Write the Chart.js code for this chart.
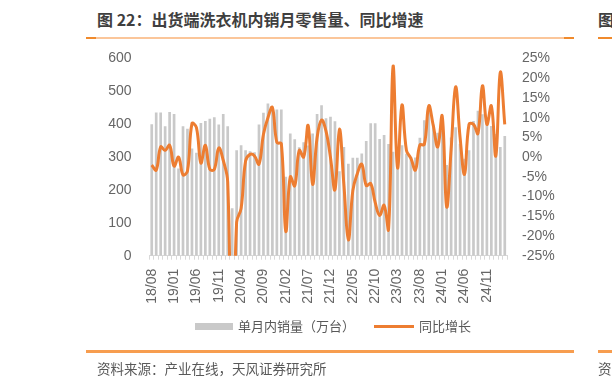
<!DOCTYPE html>
<html>
<head>
<meta charset="utf-8">
<script src="https://cdn.jsdelivr.net/npm/chart.js@4"></script>
<style>
  html, body { margin: 0; padding: 0; background: #fff; }
  body { width: 612px; height: 384px; position: relative; overflow: hidden; font-family: "Noto Sans CJK SC", "Noto Sans", sans-serif; }
  #c { position: absolute; left: 0; top: 0; }
  .abs { position: absolute; white-space: nowrap; }
  .title { left: 97px; top: 8px; font-size: 16px; font-weight: bold; color: #3f3f3f; line-height: 22px; }
  .rule-top { left: 86px; top: 37px; width: 488px; height: 2px; background: linear-gradient(to right, #f08a2c 0, #f08a2c 10px, #fbc69a 10px, #fbc69a 478px, #f08a2c 478px); }
  .rule-bot { left: 86px; top: 350px; width: 488px; height: 3px; background: #f79d4f; }
  .source { left: 97px; top: 358px; font-size: 13.5px; color: #595959; line-height: 20px; }
  .legend { top: 317px; font-size: 13px; color: #595959; line-height: 18px; }
</style>
</head>
<body>
<div class="abs title">图 22：出货端洗衣机内销月零售量、同比增速</div>
<div class="abs rule-top"></div>
<div class="abs title" style="left:598px">图</div>
<div class="abs" style="left:598px;top:37px;width:14px;height:2px;background:#f08a2c"></div>

<canvas id="c" width="612" height="384"></canvas>

<div class="abs" style="left:195px;top:323px;width:38px;height:7px;background:#c9c9c9"></div>
<div class="abs legend" style="left:238px">单月内销量（万台）</div>
<div class="abs" style="left:374px;top:325px;width:40px;height:3px;background:#ed7d31"></div>
<div class="abs legend" style="left:419px">同比增长</div>

<div class="abs rule-bot"></div>
<div class="abs" style="left:598px;top:350px;width:14px;height:3px;background:#f79d4f"></div>
<div class="abs source">资料来源：产业在线，天风证券研究所</div>
<div class="abs source" style="left:598px">资</div>

<script>
const months = [
  '18/08','18/09','18/10','18/11','18/12',
  '19/01','19/02','19/03','19/04','19/05','19/06','19/07','19/08','19/09','19/10','19/11','19/12',
  '20/01','20/02','20/03','20/04','20/05','20/06','20/07','20/08','20/09','20/10','20/11','20/12',
  '21/01','21/02','21/03','21/04','21/05','21/06','21/07','21/08','21/09','21/10','21/11','21/12',
  '22/01','22/02','22/03','22/04','22/05','22/06','22/07','22/08','22/09','22/10','22/11','22/12',
  '23/01','23/02','23/03','23/04','23/05','23/06','23/07','23/08','23/09','23/10','23/11','23/12',
  '24/01','24/02','24/03','24/04','24/05','24/06','24/07','24/08','24/09','24/10','24/11','24/12',
  '25/01','25/02','25/03'
];
// 单月内销量（万台）
const sales = [
  400, 436, 436, 394, 437, 431, 265, 394, 386, 326,
  313, 404, 410, 417, 421, 399, 431, 394, 144, 321,
  336, 321, 318, 315, 399, 435, 463, 446, 445, 445,
  240, 372, 354, 330, 345, 335, 372, 431, 458, 418,
  423, 409, 257, 331, 280, 298, 298, 311, 349, 403,
  403, 355, 367, 340, 316, 319, 336, 310, 300, 299,
  359, 412, 446, 399, 374, 380, 276, 360, 391, 340,
  295, 321, 410, 441, 430, 410, 395, 370, 331, 364
];
// 同比增长（%）
const yoy = [
  -2.0, -3.3, 2.6, 1.7, 3.0, -2.3, 0.0, -4.5, -3.5, 8.5,
  7.5, -1.5, 3.0, -3.1, -3.1, 2.3, -0.8, -6.3, -60, -16.5,
  -13, -1.0, 0.7, 0.3, -1.8, 5.8, 10, 12.6, 3.7, 3.4,
  -18.8, -5.0, -7.3, 1.7, 0.0, 8.0, -6.9, 4.9, 9.4, 6.6,
  -0.1, -8.3, 7.1, -7, -21, -8.5, -4.2, -1.8, -7.2, -6.7,
  -11.5, -14.8, -12.2, -18.3, 23, -2.7, 13.2, 1.7, -0.3, -3.3,
  3.1, 3.2, 13, 8, 2.6, 10.4, -12.6, 2, 17.8, 5,
  -4.4, 8.3, 8.3, 6.0, 18.1, 8.3, 13, 0.3, 21.5, 8.3
];
const labelEvery = 5;

const tickFont = { family: '"Liberation Sans", "Noto Sans", sans-serif', size: 14 };
const tickColor = '#666666';

const ctx = document.getElementById('c').getContext('2d');
new Chart(ctx, {
  type: 'bar',
  data: {
    labels: months,
    datasets: [
      {
        type: 'line',
        label: '同比增长',
        data: yoy,
        yAxisID: 'y2',
        borderColor: '#ed7d31',
        borderWidth: 3,
        pointRadius: 0,
        tension: 0.4,
        order: 0
      },
      {
        label: '单月内销量（万台）',
        data: sales,
        yAxisID: 'y',
        backgroundColor: '#c9c9c9',
        barPercentage: 0.6,
        categoryPercentage: 1,
        order: 1
      }
    ]
  },
  options: {
    responsive: false,
    animation: false,
    layout: { padding: { top: 58.5, left: 0, right: 0, bottom: 0 } },
    plugins: { legend: { display: false }, tooltip: { enabled: false } },
    scales: {
      x: {
        afterFit: s => { s.height = 128.3; },
        grid: { display: true, drawOnChartArea: false, drawTicks: true, tickLength: 4, color: '#d9d9d9', offset: true },
        border: { display: true, color: '#d9d9d9' },
        ticks: {
          autoSkip: false, minRotation: 90, maxRotation: 90, padding: 9,
          color: tickColor, font: tickFont,
          callback: (v, i) => (i % labelEvery === 0 ? months[i] : '')
        }
      },
      y: {
        position: 'left',
        min: 0, max: 600,
        afterFit: s => { s.width = 149.5; },
        grid: { display: false, drawTicks: false },
        border: { display: false },
        ticks: { stepSize: 100, autoSkip: false, padding: 18, color: tickColor, font: tickFont }
      },
      y2: {
        position: 'right',
        min: -25, max: 25,
        afterFit: s => { s.width = 105; },
        grid: { display: false, drawTicks: false },
        border: { display: false },
        ticks: { stepSize: 5, autoSkip: false, padding: 15, color: tickColor, font: tickFont, callback: v => v + '%' }
      }
    }
  }
});
</script>
</body>
</html>
